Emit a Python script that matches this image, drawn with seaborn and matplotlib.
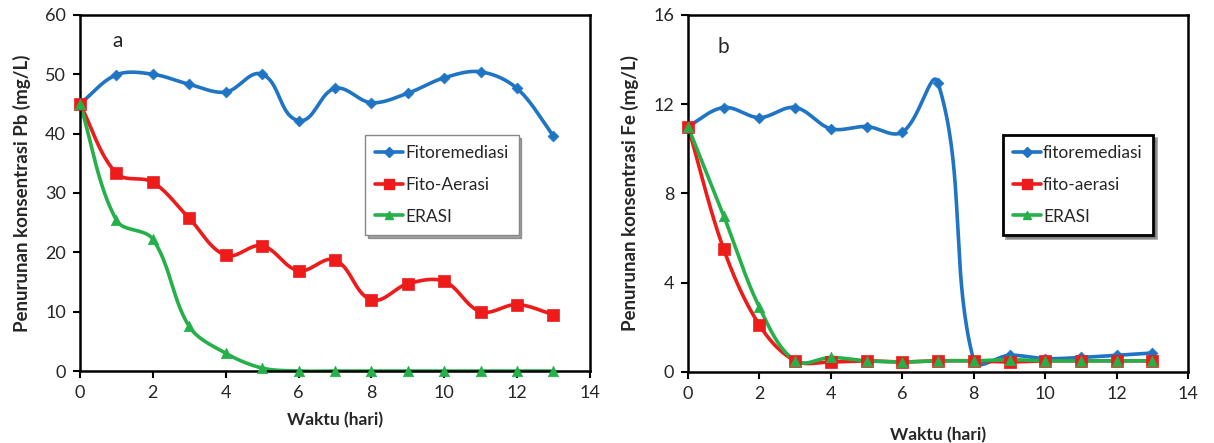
import numpy as np
import pandas as pd
import matplotlib
matplotlib.use("Agg")
import matplotlib.pyplot as plt
import seaborn as sns

days = list(range(14))

# Panel a: Pb (mg/L)
pb_fitoremediasi = [45.0, 49.9, 50.0, 48.3, 47.0, 50.0, 42.2, 47.6, 45.2, 46.8, 49.4, 50.4, 47.6, 39.6]
pb_fito_aerasi = [45.0, 33.3, 31.8, 25.7, 19.5, 21.1, 16.9, 18.7, 12.0, 14.7, 15.1, 10.0, 11.2, 9.5]
pb_erasi = [45.0, 25.4, 22.2, 7.5, 3.0, 0.5, 0.0, 0.0, 0.0, 0.0, 0.0, 0.0, 0.0, 0.0]
pb_labels = ["Fitoremediasi", "Fito-Aerasi", "ERASI"]

# Panel b: Fe (mg/L)
fe_fitoremediasi = [11.0, 11.85, 11.4, 11.85, 10.9, 11.0, 10.75, 12.95, 0.5, 0.75, 0.6, 0.65, 0.75, 0.85]
fe_fito_aerasi = [11.0, 5.5, 2.1, 0.5, 0.45, 0.5, 0.45, 0.5, 0.5, 0.45, 0.5, 0.5, 0.5, 0.5]
fe_erasi = [11.0, 7.0, 2.9, 0.5, 0.65, 0.5, 0.45, 0.5, 0.5, 0.55, 0.5, 0.5, 0.5, 0.5]
fe_labels = ["fitoremediasi", "fito-aerasi", "ERASI"]

colors = ["#1f74c4", "#ee1b1b", "#25b04a"]
markers = ["D", "s", "^"]
msizes = [5.5, 8.5, 7.5]

sns.set_style("white")
plt.rcParams['font.family'] = ['Lato', 'DejaVu Sans']


def smooth(x, y, sx, sy, n=40):
    """Excel-like smoothed line, computed in screen space (px per unit sx, sy)."""
    P = np.column_stack([np.asarray(x, float) * sx, np.asarray(y, float) * sy])
    m = len(P)
    T = []
    for i in range(m):
        a = P[i - 1] if i > 0 else P[i]
        b = P[i + 1] if i < m - 1 else P[i]
        d = b - a
        T.append(d / (np.hypot(*d) + 1e-12))
    out = []
    for i in range(m - 1):
        p1, p2 = P[i], P[i + 1]
        L = np.hypot(*(p2 - p1)) / 3.0
        c1 = p1 + T[i] * L
        c2 = p2 - T[i + 1] * L
        t = np.linspace(0, 1, n, endpoint=(i == m - 2))[:, None]
        bz = ((1 - t) ** 3) * p1 + 3 * ((1 - t) ** 2) * t * c1 + 3 * (1 - t) * t ** 2 * c2 + t ** 3 * p2
        out.append(bz)
    out = np.vstack(out)
    return out[:, 0] / sx, out[:, 1] / sy


def panel(ax, series, labels, ylim, yticks, ylabel, letter, letter_pos, legend_anchor, legend_style, px):
    handles = []
    for vals, lab, c, mk, ms in zip(series, labels, colors, markers, msizes):
        sxs, sys_ = smooth(days, vals, px[0], px[1])
        ax.plot(sxs, sys_, color=c, lw=2.6, zorder=2, solid_capstyle="round")
        df = pd.DataFrame({"x": days, "y": vals})
        sns.scatterplot(data=df, x="x", y="y", ax=ax, marker=mk, s=ms ** 2,
                        color=c, edgecolor=c, linewidth=0.5, zorder=3, legend=False,
                        clip_on=False)
        h, = ax.plot([], [], color=c, lw=2.6, marker=mk, markersize=ms * 0.85, label=lab)
        handles.append(h)
    ax.set_xlim(0, 14)
    ax.set_ylim(*ylim)
    ax.set_xticks(range(0, 15, 2))
    ax.set_yticks(yticks)
    ax.tick_params(axis="both", direction="out", length=5, width=1.5, labelsize=13,
                   bottom=True, left=True, color="black", pad=5)
    for s in ax.spines.values():
        s.set_visible(True)
        s.set_color("black")
        s.set_linewidth(1.8)
    ax.set_xlabel("Waktu (hari)", fontsize=12.5, fontweight="bold")
    ax.set_ylabel(ylabel, fontsize=13.5, fontweight="bold")
    ax.text(letter_pos[0], letter_pos[1], letter, fontsize=15)
    leg = ax.legend(handles=handles, loc="upper left", bbox_to_anchor=legend_anchor,
                    frameon=True, fancybox=False, shadow=True, fontsize=12.5,
                    handlelength=1.6, handletextpad=0.1, labelspacing=0.9,
                    borderpad=0.6, borderaxespad=0)
    fr = leg.get_frame()
    fr.set_edgecolor(legend_style[0])
    fr.set_linewidth(legend_style[1])
    return ax


fig = plt.figure(figsize=(12.14, 4.43), dpi=100)
ax1 = fig.add_axes([0.0659, 0.1625, 0.420, 0.804])
ax2 = fig.add_axes([0.5667, 0.1603, 0.412, 0.806])

panel(ax1, [pb_fitoremediasi, pb_fito_aerasi, pb_erasi], pb_labels, (0, 60),
      range(0, 61, 10), "Penurunan konsentrasi Pb (mg/L)", "a", (0.9, 54.5),
      (0.559, 0.663), ("#888888", 1.0), (510 / 14, 356 / 60))
panel(ax2, [fe_fitoremediasi, fe_fito_aerasi, fe_erasi], fe_labels, (0, 16),
      range(0, 17, 4), "Penurunan konsentrasi Fe (mg/L)", "b", (0.84, 14.3),
      (0.63, 0.664), ("black", 2.0), (500 / 14, 357 / 16))
ax1.xaxis.labelpad = 8
ax2.xaxis.labelpad = 18
ax1.yaxis.labelpad = 10
ax2.yaxis.labelpad = 10

fig.savefig("out.png", dpi=100)
